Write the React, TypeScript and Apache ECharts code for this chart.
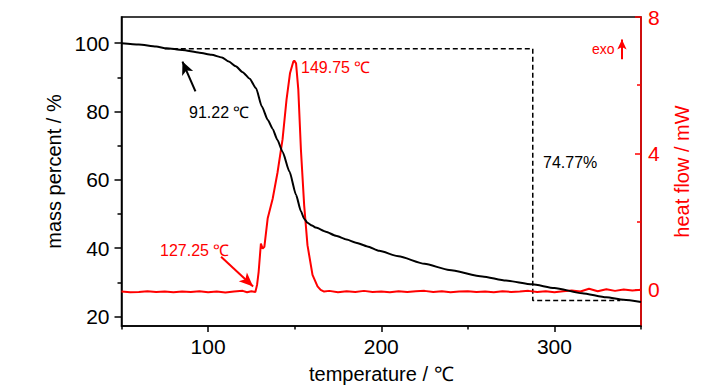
import React, { useEffect, useRef } from 'react';
import * as echarts from 'echarts';

// TG curve (mass percent vs temperature)
const tgTemp = [50, 60, 70, 76, 85, 95, 102, 108, 112, 116, 120, 124, 127.7, 131, 134.5, 137.3, 140, 143, 147, 150.8, 153.6, 155.5, 157.4, 160, 162.3, 168, 173.8, 180, 185.4, 192, 198.8, 210, 225, 239.2, 258.4, 272, 287.2, 300, 316, 330, 340, 350];
const tgMass = [100, 99.6, 99.0, 98.5, 98.0, 97.2, 96.6, 95.8, 94.6, 93.2, 91.5, 89.6, 86.8, 81.5, 77.5, 74.9, 71.7, 68.2, 62.4, 55.6, 50.8, 48.6, 47.4, 46.6, 46.0, 44.8, 43.6, 42.5, 41.6, 40.5, 39.2, 37.6, 35.4, 33.6, 31.7, 30.5, 29.4, 28.3, 26.8, 25.6, 24.9, 24.2];

// DSC curve (heat flow vs temperature)
const dscTemp = [50, 55, 60, 65, 70, 75, 80, 85, 90, 95, 100, 105, 110, 115, 120, 122.5, 125, 127.3, 128.3, 129.2, 130.5, 131.5, 132.5, 134.4, 137.3, 140.1, 143, 145.3, 147.3, 149.2, 149.75, 150.8, 152.1, 153.6, 155.5, 157.4, 160.3, 163.2, 165, 167, 170, 175, 180, 185, 190, 195, 200, 205, 210, 215, 220, 225, 230, 235, 240, 245, 250, 255, 260, 265, 270, 275, 280, 285, 290, 295, 300, 305, 310, 315, 320, 325, 330, 335, 340, 345, 350];
const dscHeat = [-0.05, -0.07, -0.06, -0.04, -0.06, -0.05, -0.07, -0.05, -0.06, -0.04, -0.07, -0.05, -0.08, -0.05, -0.03, -0.07, -0.04, -0.06, 0.15, 0.53, 1.36, 1.21, 1.26, 2.09, 2.67, 3.44, 4.41, 5.58, 6.35, 6.69, 6.72, 6.64, 5.87, 4.12, 2.47, 1.31, 0.44, 0.1, 0.0, -0.05, -0.03, -0.07, -0.04, -0.06, -0.03, -0.06, -0.05, -0.07, -0.04, -0.06, -0.04, -0.03, -0.06, -0.04, -0.07, -0.05, -0.04, -0.06, -0.05, -0.07, -0.04, -0.06, -0.05, -0.03, -0.06, -0.04, -0.07, -0.04, -0.02, -0.05, 0.03, -0.04, 0.02, -0.03, 0.01, -0.02, 0.0];

// Dashed mass-loss box
const boxTemp = [75, 287.5, 287.5, 338];
const boxMass = [98.35, 98.35, 24.7, 24.7];

// Annotation arrows (data coordinates): [fromX, fromY, toX, toY]
const onsetArrowTG = [92.7, 85.9, 85.2, 94.6];
const onsetArrowDSC = [107.5, 0.97, 126, 0.1];
const exoArrow = [339, 6.76, 339, 7.34];

// Ticks
const xMajorTicks = [100, 200, 300];
const xMinorTicks = [50, 150, 250, 350];
const yMajorTicks = [20, 40, 60, 80, 100];
const yMinorTicks = [30, 50, 70, 90];
const hMajorTicks = [0, 4, 8];
const hMinorTicks = [2, 6];

export default function App() {
  const ref = useRef<HTMLDivElement>(null);
  useEffect(() => {
    const chart = echarts.init(ref.current!, null, { renderer: 'svg' });
    const font = "'Liberation Sans', Arial, sans-serif";
    const black = '#000000';
    const red = '#ff0000';
    const yMin = 17.2;
    const yMax = 107.65;
    const hMin = -1.06;
    const hMax = 8;

    const option: any = {
      animation: false,
      backgroundColor: '#ffffff',
      grid: {
        left: 121.5,
        top: 17,
        width: 519.5,
        height: 311.5,
        show: true,
        borderColor: black,
        borderWidth: 1.5,
        backgroundColor: 'transparent',
      },
      xAxis: [
        {
          type: 'value',
          min: 50,
          max: 350,
          position: 'bottom',
          axisLine: { show: true, onZero: false, lineStyle: { color: black, width: 1.5 } },
          axisTick: { show: true, inside: false, length: 6, customValues: xMajorTicks, lineStyle: { color: black, width: 1.5 } },
          axisLabel: { customValues: xMajorTicks, color: black, fontSize: 21, fontFamily: font, margin: 10 },
          splitLine: { show: false },
          name: 'temperature / ℃',
          nameLocation: 'middle',
          nameGap: 38,
          nameTextStyle: { color: black, fontSize: 20, fontFamily: font },
        },
        {
          type: 'value',
          min: 50,
          max: 350,
          position: 'bottom',
          axisLine: { show: false, onZero: false },
          axisTick: { show: true, inside: false, length: 3.5, customValues: xMinorTicks, lineStyle: { color: black, width: 1.5 } },
          axisLabel: { show: false },
          splitLine: { show: false },
        },
      ],
      yAxis: [
        {
          type: 'value',
          min: yMin,
          max: yMax,
          position: 'left',
          axisLine: { show: true, onZero: false, lineStyle: { color: black, width: 1.5 } },
          axisTick: { show: true, inside: false, length: 7, customValues: yMajorTicks, lineStyle: { color: black, width: 1.5 } },
          axisLabel: { customValues: yMajorTicks, color: black, fontSize: 21, fontFamily: font, margin: 12 },
          splitLine: { show: false },
          name: 'mass percent / %',
          nameLocation: 'middle',
          nameGap: 51,
          nameTextStyle: { color: black, fontSize: 20, fontFamily: font },
        },
        {
          type: 'value',
          min: yMin,
          max: yMax,
          position: 'left',
          axisLine: { show: false, onZero: false },
          axisTick: { show: true, inside: false, length: 4, customValues: yMinorTicks, lineStyle: { color: black, width: 1.5 } },
          axisLabel: { show: false },
          splitLine: { show: false },
        },
        {
          type: 'value',
          min: hMin,
          max: hMax,
          position: 'right',
          axisLine: { show: true, onZero: false, lineStyle: { color: red, width: 1.5 } },
          axisTick: { show: true, inside: true, length: 6, customValues: hMajorTicks, lineStyle: { color: red, width: 1.5 } },
          axisLabel: { customValues: hMajorTicks, color: red, fontSize: 21, fontFamily: font, margin: 7 },
          splitLine: { show: false },
          name: 'heat flow / mW',
          nameLocation: 'middle',
          nameGap: 31,
          nameTextStyle: { color: red, fontSize: 20, fontFamily: font },
        },
        {
          type: 'value',
          min: hMin,
          max: hMax,
          position: 'right',
          axisLine: { show: false, onZero: false },
          axisTick: { show: true, inside: true, length: 4, customValues: hMinorTicks, lineStyle: { color: red, width: 1.5 } },
          axisLabel: { show: false },
          splitLine: { show: false },
        },
      ],
      series: [
        {
          name: 'box',
          type: 'line',
          xAxisIndex: 0,
          yAxisIndex: 0,
          data: boxTemp.map((t, i) => [t, boxMass[i]]),
          showSymbol: false,
          silent: true,
          lineStyle: { color: black, width: 1.5, type: [5, 3] },
          z: 2,
        },
        {
          name: 'DSC',
          type: 'line',
          xAxisIndex: 0,
          yAxisIndex: 2,
          data: dscTemp.map((t, i) => [t, dscHeat[i]]),
          showSymbol: false,
          silent: true,
          lineStyle: { color: red, width: 2 },
          z: 3,
          markLine: {
            silent: true,
            symbol: ['none', 'arrow'],
            symbolSize: [9, 14],
            label: { show: false },
            lineStyle: { color: red, width: 2, type: 'solid' },
            data: [
              [{ coord: [onsetArrowDSC[0], onsetArrowDSC[1]] }, { coord: [onsetArrowDSC[2], onsetArrowDSC[3]] }],
              [
                { coord: [exoArrow[0], exoArrow[1]], symbolSize: [7, 10] },
                { coord: [exoArrow[2], exoArrow[3]], symbolSize: [7, 10] },
              ],
            ],
          },
        },
        {
          name: 'TG',
          type: 'line',
          xAxisIndex: 0,
          yAxisIndex: 0,
          data: tgTemp.map((t, i) => [t, tgMass[i]]),
          showSymbol: false,
          silent: true,
          smooth: 0.2,
          smoothMonotone: 'x',
          lineStyle: { color: black, width: 2 },
          z: 4,
          markLine: {
            silent: true,
            symbol: ['none', 'arrow'],
            symbolSize: [9, 13],
            label: { show: false },
            lineStyle: { color: black, width: 2, type: 'solid' },
            data: [[{ coord: [onsetArrowTG[0], onsetArrowTG[1]] }, { coord: [onsetArrowTG[2], onsetArrowTG[3]] }]],
          },
        },
      ],
      graphic: [
        { type: 'text', x: 189, y: 112, style: { text: '91.22 ℃', fill: black, fontSize: 16, fontFamily: font, verticalAlign: 'middle', align: 'left' } },
        { type: 'text', x: 301, y: 67, style: { text: '149.75 ℃', fill: red, fontSize: 16, fontFamily: font, verticalAlign: 'middle', align: 'left' } },
        { type: 'text', x: 160, y: 250, style: { text: '127.25 ℃', fill: red, fontSize: 16, fontFamily: font, verticalAlign: 'middle', align: 'left' } },
        { type: 'text', x: 543, y: 162, style: { text: '74.77%', fill: black, fontSize: 16, fontFamily: font, verticalAlign: 'middle', align: 'left' } },
        { type: 'text', x: 592, y: 49, style: { text: 'exo', fill: red, fontSize: 14, fontFamily: font, verticalAlign: 'middle', align: 'left' } },
      ],
    };
    chart.setOption(option);
    return () => chart.dispose();
  }, []);
  return <div ref={ref} style={{ position: 'fixed', left: 0, top: 0, width: 728, height: 389, background: '#fff' }} />;
}
